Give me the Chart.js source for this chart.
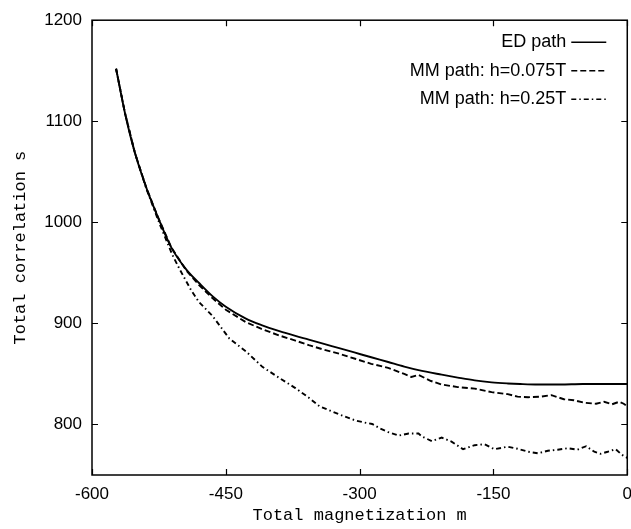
<!DOCTYPE html>
<html>
<head>
<meta charset="utf-8">
<script src="https://cdn.jsdelivr.net/npm/chart.js@4"></script>
<style>
  html, body { margin: 0; padding: 0; background: #fff; overflow: hidden; }
  body { width: 631px; height: 529px; }
</style>
</head>
<body>
<canvas id="chart" width="641" height="529"></canvas>
<script>
// =========================
// data
// =========================
const xTicks = [-600, -450, -300, -150, 0];
const yTicks = [800, 900, 1000, 1100, 1200];

const seriesLabels = ["ED path", "MM path: h=0.075T", "MM path: h=0.25T"];

const edM = [-573, -563, -552, -539, -526, -511, -494, -480, -465, -450, -428, -410, -390, -372, -357, -342, -323, -305, -287, -268, -250, -234, -208, -190, -171, -152, -134, -120, -100, -75, -50, -25, 0];
const edS = [1152, 1108, 1069, 1034, 1005, 975, 953, 940, 927, 916.5, 905, 898.3, 892.3, 887.6, 884, 880.3, 875.5, 871, 866.5, 861.8, 857.3, 853.8, 849.3, 846.4, 843.6, 841.7, 840.6, 840, 839.5, 839.5, 840, 840, 840];

const mm075M = [-573, -563, -552, -539, -526, -511, -494, -480, -465, -450, -428, -410, -390, -372, -357, -342, -323, -305, -287, -268, -250, -242, -234, -220, -208, -190, -171, -152, -134, -123, -111, -97, -85, -71, -60, -48, -35, -26, -17, -9, -4, 0];
const mm075S = [1152, 1108, 1069, 1034, 1005, 975, 952, 938, 925, 913.5, 901.5, 894.5, 888, 883, 878.5, 874.5, 870, 865, 860, 856, 850, 847, 849, 843, 839.5, 837, 835.5, 832, 830, 827.5, 827, 827.5, 829, 825, 824, 821.5, 820.5, 822.5, 820, 822.5, 820.5, 818];

const mm025M = [-573, -563, -552, -539, -524, -510, -502, -489, -480, -465, -446, -427, -409, -390, -372, -357, -345, -323, -305, -295, -286, -277, -268, -256, -245, -234, -230, -219, -208, -197, -184, -171, -160, -149, -134, -123, -111, -100, -89, -78, -67, -56, -46, -37, -30, -22, -13, -6, 0];
const mm025S = [1152, 1108, 1069, 1033, 998, 968, 954, 933, 921, 907.5, 885, 872, 857, 846, 836, 826.5, 818, 810, 804, 802, 800.5, 796, 792.5, 789, 791, 791, 788, 783.5, 787, 783, 775.5, 779.5, 780.5, 775.5, 778, 776, 773, 771.5, 774, 775, 776.5, 775, 778.5, 773, 771, 773, 775.5, 770, 767];

function toPoints(xs, ys) {
  return xs.map((x, i) => ({ x, y: ys[i] }));
}

// =========================
// gnuplot style frame, inner ticks and legend
// =========================
const TICK_LEN = 6;

const gnuplotFrame = {
  id: "gnuplotFrame",
  afterDatasetsDraw(chart) {
    const { ctx, chartArea: a, scales } = chart;

    ctx.save();
    ctx.strokeStyle = "#000";
    ctx.setLineDash([]);

    ctx.lineWidth = 1.5;
    ctx.strokeRect(a.left, a.top, a.right - a.left, a.bottom - a.top);

    ctx.lineWidth = 1.2;
    ctx.beginPath();
    scales.x.ticks.forEach((t) => {
      const px = Math.round(scales.x.getPixelForValue(t.value)) + 0.5;
      ctx.moveTo(px, a.bottom);
      ctx.lineTo(px, a.bottom - TICK_LEN);
      ctx.moveTo(px, a.top);
      ctx.lineTo(px, a.top + TICK_LEN);
    });
    scales.y.ticks.forEach((t) => {
      const py = Math.round(scales.y.getPixelForValue(t.value)) + 0.5;
      ctx.moveTo(a.left, py);
      ctx.lineTo(a.left + TICK_LEN, py);
      ctx.moveTo(a.right, py);
      ctx.lineTo(a.right - TICK_LEN, py);
    });
    ctx.stroke();

    // legend: right-aligned text, line sample on the right
    const textRight = a.right - 61;
    const sampleLeft = a.right - 56;
    const sampleRight = a.right - 21;
    ctx.font = "18px 'Liberation Sans', Arial, sans-serif";
    ctx.fillStyle = "#000";
    ctx.textAlign = "right";
    ctx.textBaseline = "middle";

    chart.data.datasets.forEach((ds, i) => {
      const y = a.top + 22 + i * 28.5;
      ctx.fillText(ds.label, textRight, y);
      ctx.lineWidth = 1.5;
      ctx.setLineDash(ds.borderDash || []);
      ctx.beginPath();
      ctx.moveTo(sampleLeft, y);
      ctx.lineTo(sampleRight, y);
      ctx.stroke();
    });

    ctx.restore();
  },
};

const tickFont = { family: "'Liberation Sans', Arial, sans-serif", size: 17 };
const titleFont = { family: "'Liberation Mono', 'Courier New', monospace", size: 17 };

new Chart(document.getElementById("chart").getContext("2d"), {
  type: "line",
  data: {
    datasets: [
      {
        label: seriesLabels[0],
        data: toPoints(edM, edS),
        borderColor: "#000",
        borderWidth: 1.9,
        pointRadius: 0,
        cubicInterpolationMode: "monotone",
      },
      {
        label: seriesLabels[1],
        data: toPoints(mm075M, mm075S),
        borderColor: "#000",
        borderWidth: 1.9,
        borderDash: [6, 3],
        pointRadius: 0,
        tension: 0,
      },
      {
        label: seriesLabels[2],
        data: toPoints(mm025M, mm025S),
        borderColor: "#000",
        borderWidth: 1.9,
        borderDash: [5, 3, 1.5, 3],
        pointRadius: 0,
        tension: 0,
      },
    ],
  },
  options: {
    responsive: false,
    animation: false,
    layout: { padding: { top: 12, right: 4, left: 0, bottom: 0 } },
    plugins: {
      legend: { display: false },
      tooltip: { enabled: false },
    },
    scales: {
      x: {
        type: "linear",
        min: -600,
        max: 0,
        afterBuildTicks: (scale) => {
          scale.ticks = xTicks.map((v) => ({ value: v }));
        },
        afterFit: (scale) => {
          scale.height = 54;
        },
        grid: { display: false, drawTicks: false },
        border: { display: false },
        ticks: {
          font: tickFont,
          color: "#000",
          padding: 9,
          maxRotation: 0,
          callback: (v) => String(v),
        },
        title: {
          display: true,
          text: "Total magnetization m",
          font: titleFont,
          color: "#000",
          padding: { top: 0, bottom: 3 },
        },
      },
      y: {
        min: 750,
        max: 1200,
        afterBuildTicks: (scale) => {
          scale.ticks = yTicks.map((v) => ({ value: v }));
        },
        afterFit: (scale) => {
          scale.width = 92;
        },
        grid: { display: false, drawTicks: false },
        border: { display: false },
        ticks: {
          font: tickFont,
          color: "#000",
          padding: 10,
          callback: (v) => String(v),
        },
        title: {
          display: true,
          text: "Total correlation s",
          font: titleFont,
          color: "#000",
          padding: { top: 10, bottom: 0 },
        },
      },
    },
  },
  plugins: [gnuplotFrame],
});
</script>
</body>
</html>
